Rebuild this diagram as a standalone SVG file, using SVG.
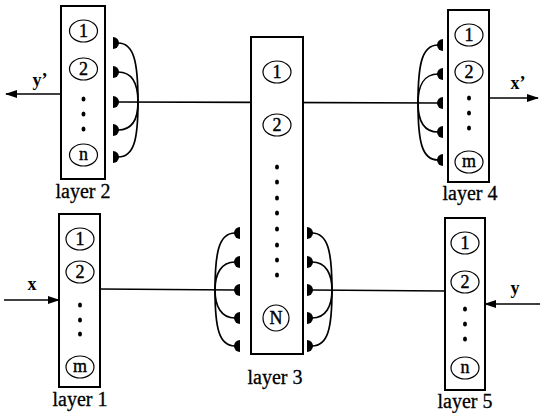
<svg xmlns="http://www.w3.org/2000/svg" width="540" height="413" viewBox="0 0 540 413">
  <style>
    .box { fill: #fff; stroke: #000; stroke-width: 2; }
    .unit { fill: #fff; stroke: #000; stroke-width: 1.2; }
    .num { font-family: "Liberation Serif", "Times New Roman", serif; font-size: 18px; text-anchor: middle; fill: #000; stroke: #000; stroke-width: 0.4; }
    .lbl { font-family: "Liberation Serif", "Times New Roman", serif; font-size: 20px; text-anchor: middle; fill: #000; stroke: #000; stroke-width: 0.3; }
    .io { font-family: "Liberation Serif", "Times New Roman", serif; font-size: 18px; font-weight: bold; text-anchor: middle; fill: #000; }
    .wire { fill: none; stroke: #000; stroke-width: 1.7; }
    .knob { fill: #000; }
    .dot { fill: #000; }
  </style>
  <defs>
    <marker id="arrow" viewBox="0 0 12 8" refX="11" refY="4" markerWidth="12" markerHeight="8" markerUnits="userSpaceOnUse" orient="auto">
      <path d="M0,0 L12,4 L0,8 Z" fill="#000"/>
    </marker>
    <!-- synapse terminal: half disc, flat side at x=0, bulging to +x / -x -->
    <path id="knobR" d="M0,-6 A6,6 0 0 1 0,6 Z"/>
    <path id="knobL" d="M0,-6 A6,6 0 0 0 0,6 Z"/>
    <ellipse id="dot" rx="2" ry="2.5"/>
  </defs>

  <!-- connectors -->
  <g id="connectors">
    <!-- layer 2 fan-in to layer 3 / layer 4 -->
    <line class="wire" x1="118" y1="102" x2="438" y2="103"/>
    <path class="wire" d="M118,43 C134,43 138,62 138,102"/>
    <path class="wire" d="M118,72 C132,72 138,84 138,102"/>
    <path class="wire" d="M118,130 C132,130 138,120 138,102"/>
    <path class="wire" d="M118,157 C134,157 138,140 138,102"/>
    <g class="knob">
      <use href="#knobR" x="113" y="43"/>
      <use href="#knobR" x="113" y="72"/>
      <use href="#knobR" x="113" y="102"/>
      <use href="#knobR" x="113" y="130"/>
      <use href="#knobR" x="113" y="157"/>
    </g>
    <!-- layer 4 fan -->
    <path class="wire" d="M438,45 C422,45 418,64 418,103"/>
    <path class="wire" d="M438,74 C424,74 418,86 418,103"/>
    <path class="wire" d="M438,132 C424,132 418,121 418,103"/>
    <path class="wire" d="M438,160 C422,160 418,142 418,103"/>
    <g class="knob">
      <use href="#knobL" x="443" y="45"/>
      <use href="#knobL" x="443" y="74"/>
      <use href="#knobL" x="443" y="103"/>
      <use href="#knobL" x="443" y="132"/>
      <use href="#knobL" x="443" y="160"/>
    </g>

    <!-- layer 1 to layer 3 left fan -->
    <line class="wire" x1="100" y1="289" x2="235" y2="290"/>
    <path class="wire" d="M235,233 C219,233 215,252 215,290"/>
    <path class="wire" d="M235,262 C221,262 215,274 215,290"/>
    <path class="wire" d="M235,318 C221,318 215,306 215,290"/>
    <path class="wire" d="M235,346 C219,346 215,328 215,290"/>
    <g class="knob">
      <use href="#knobL" x="240" y="233"/>
      <use href="#knobL" x="240" y="262"/>
      <use href="#knobL" x="240" y="290"/>
      <use href="#knobL" x="240" y="318"/>
      <use href="#knobL" x="240" y="346"/>
    </g>
    <!-- layer 3 right fan to layer 5 -->
    <line class="wire" x1="312" y1="290" x2="445" y2="291"/>
    <path class="wire" d="M312,233 C328,233 332,252 332,290"/>
    <path class="wire" d="M312,262 C326,262 332,274 332,290"/>
    <path class="wire" d="M312,318 C326,318 332,306 332,290"/>
    <path class="wire" d="M312,346 C328,346 332,328 332,290"/>
    <g class="knob">
      <use href="#knobR" x="307" y="233"/>
      <use href="#knobR" x="307" y="262"/>
      <use href="#knobR" x="307" y="290"/>
      <use href="#knobR" x="307" y="318"/>
      <use href="#knobR" x="307" y="346"/>
    </g>

    <!-- external inputs and outputs -->
    <line class="wire" x1="61" y1="94" x2="6" y2="94" marker-end="url(#arrow)"/>
    <line class="wire" x1="489" y1="98" x2="538" y2="98" marker-end="url(#arrow)"/>
    <line class="wire" x1="4" y1="300" x2="59" y2="300" marker-end="url(#arrow)"/>
    <line class="wire" x1="540" y1="304" x2="485" y2="304" marker-end="url(#arrow)"/>
    <text class="io" x="40" y="86">y’</text>
    <text class="io" x="518" y="89">x’</text>
    <text class="io" x="32" y="290">x</text>
    <text class="io" x="515" y="294">y</text>
  </g>

  <!-- layer 2 -->
  <g id="layer2">
    <rect class="box" x="61" y="6" width="44" height="173"/>
    <ellipse class="unit" cx="83.5" cy="31" rx="14" ry="11"/>
    <text class="num" x="83.5" y="37">1</text>
    <ellipse class="unit" cx="83.5" cy="69" rx="14" ry="11"/>
    <text class="num" x="83.5" y="75">2</text>
    <g class="dot">
      <use href="#dot" x="83.5" y="99"/>
      <use href="#dot" x="83.5" y="114"/>
      <use href="#dot" x="83.5" y="129"/>
    </g>
    <ellipse class="unit" cx="83.5" cy="155" rx="14" ry="11"/>
    <text class="num" x="83.5" y="160">n</text>
    <text class="lbl" x="83" y="198">layer 2</text>
  </g>

  <!-- layer 4 -->
  <g id="layer4">
    <rect class="box" x="448" y="10" width="41" height="172"/>
    <ellipse class="unit" cx="469" cy="35" rx="14" ry="11"/>
    <text class="num" x="469" y="41">1</text>
    <ellipse class="unit" cx="469" cy="72" rx="14" ry="11"/>
    <text class="num" x="469" y="78">2</text>
    <g class="dot">
      <use href="#dot" x="469" y="98"/>
      <use href="#dot" x="469" y="113"/>
      <use href="#dot" x="469" y="128"/>
    </g>
    <ellipse class="unit" cx="469" cy="162" rx="14" ry="11"/>
    <text class="num" x="469" y="167">m</text>
    <text class="lbl" x="470" y="200">layer 4</text>
  </g>

  <!-- layer 3 -->
  <g id="layer3">
    <rect class="box" x="251" y="37" width="52" height="317"/>
    <ellipse class="unit" cx="277" cy="72" rx="14" ry="11"/>
    <text class="num" x="277" y="78">1</text>
    <ellipse class="unit" cx="277" cy="125" rx="14" ry="11"/>
    <text class="num" x="277" y="131">2</text>
    <g class="dot">
      <use href="#dot" x="277" y="167"/>
      <use href="#dot" x="277" y="182"/>
      <use href="#dot" x="277" y="198"/>
      <use href="#dot" x="277" y="213"/>
      <use href="#dot" x="277" y="229"/>
      <use href="#dot" x="277" y="245"/>
      <use href="#dot" x="277" y="260"/>
      <use href="#dot" x="277" y="275"/>
    </g>
    <ellipse class="unit" cx="276" cy="318" rx="13" ry="13"/>
    <text class="num" x="276" y="324">N</text>
    <text class="lbl" x="275" y="384">layer 3</text>
  </g>

  <!-- layer 1 -->
  <g id="layer1">
    <rect class="box" x="59" y="214" width="41" height="173"/>
    <ellipse class="unit" cx="80" cy="239" rx="14" ry="11"/>
    <text class="num" x="80" y="245">1</text>
    <ellipse class="unit" cx="80" cy="272" rx="14" ry="11"/>
    <text class="num" x="80" y="278">2</text>
    <g class="dot">
      <use href="#dot" x="80" y="305"/>
      <use href="#dot" x="80" y="320"/>
      <use href="#dot" x="80" y="334"/>
    </g>
    <ellipse class="unit" cx="80" cy="367" rx="14" ry="11"/>
    <text class="num" x="80" y="372">m</text>
    <text class="lbl" x="80" y="406">layer 1</text>
  </g>

  <!-- layer 5 -->
  <g id="layer5">
    <rect class="box" x="445" y="218" width="40" height="172"/>
    <ellipse class="unit" cx="465" cy="243" rx="14" ry="11"/>
    <text class="num" x="465" y="249">1</text>
    <ellipse class="unit" cx="465" cy="282" rx="14" ry="11"/>
    <text class="num" x="465" y="288">2</text>
    <g class="dot">
      <use href="#dot" x="465" y="309"/>
      <use href="#dot" x="465" y="324"/>
      <use href="#dot" x="465" y="339"/>
    </g>
    <ellipse class="unit" cx="465" cy="368" rx="14" ry="11"/>
    <text class="num" x="465" y="373">n</text>
    <text class="lbl" x="465" y="408">layer 5</text>
  </g>
</svg>
